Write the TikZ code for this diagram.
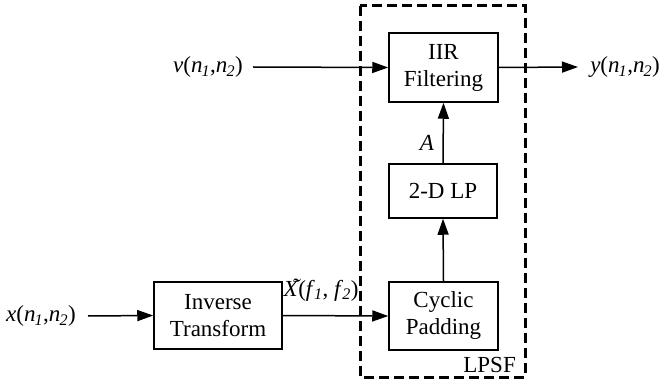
\documentclass[tikz,border=0pt]{standalone}
\usepackage{fontspec}
\setmainfont{Liberation Serif}
\usetikzlibrary{arrows.meta}
\newcommand{\sub}[1]{\kern-0.04em\textsubscript{\textit{#1}}}
% italic X with a tilde set over it
\newcommand{\tildeX}{\makebox[0pt][l]{\hspace{0.36em}\raisebox{0.08em}{\textit{\char"02DC}}}\textit{X}}
\begin{document}
\begin{tikzpicture}[x=1pt,y=-1pt,
  font=\fontsize{23}{27}\selectfont,
  block/.style={draw, line width=1.5pt, minimum width=#1, align=center, inner sep=0pt},
  flow/.style={line width=1.5pt, -{Triangle[length=16pt,width=11pt]}},
  lpsfbox/.style={line width=3pt, dash pattern=on 10pt off 5pt}]
  \useasboundingbox (0,0) rectangle (661,382);

  % processing blocks
  \node[block=109pt, minimum height=69pt] (iir) at (443.5,67.5) {IIR\\Filtering};
  \node[block=108pt, minimum height=54pt] (lp)  at (443,191) {2-D LP};
  \node[block=109pt, minimum height=68pt] (cyc) at (443.5,316) {Cyclic\\Padding};
  \node[block=128pt, minimum height=67pt] (inv) at (218,315.5) {Inverse\\Transform};

  % LPSF enclosure
  \draw[lpsfbox] (360,6) rectangle (525,377);
  \node[anchor=south east, inner sep=0pt] (lpsf) at (516,373) {LPSF};

  % signal labels
  \node (xin) at (41,316) {\textit{x}(\textit{n}\sub{1},\textit{n}\sub{2})};
  \node (vin) at (208,67) {\textit{v}(\textit{n}\sub{1},\textit{n}\sub{2})};
  \node[anchor=east, inner sep=0pt] (yout) at (660,67) {\textit{y}(\textit{n}\sub{1},\textit{n}\sub{2})};
  \node (a) at (427,143) {\textit{A}};
  \node (xt) at (321,290) {\tildeX(\textit{f}\sub{1}, \textit{f}\sub{2})};

  \coordinate (xs) at (88,316);
  \coordinate (vs) at (253,67);
  \coordinate (ye) at (578,67);

  % connectors
  \draw[flow] (xs) -- (inv.west);
  \draw[flow] (inv.east) -- (cyc.west);
  \draw[flow] (vs) -- (iir.west);
  \draw[flow] (iir.east) -- (ye);
  \draw[flow] (cyc.north) -- (lp.south);
  \draw[flow] (lp.north) -- (iir.south);
\end{tikzpicture}
\end{document}
